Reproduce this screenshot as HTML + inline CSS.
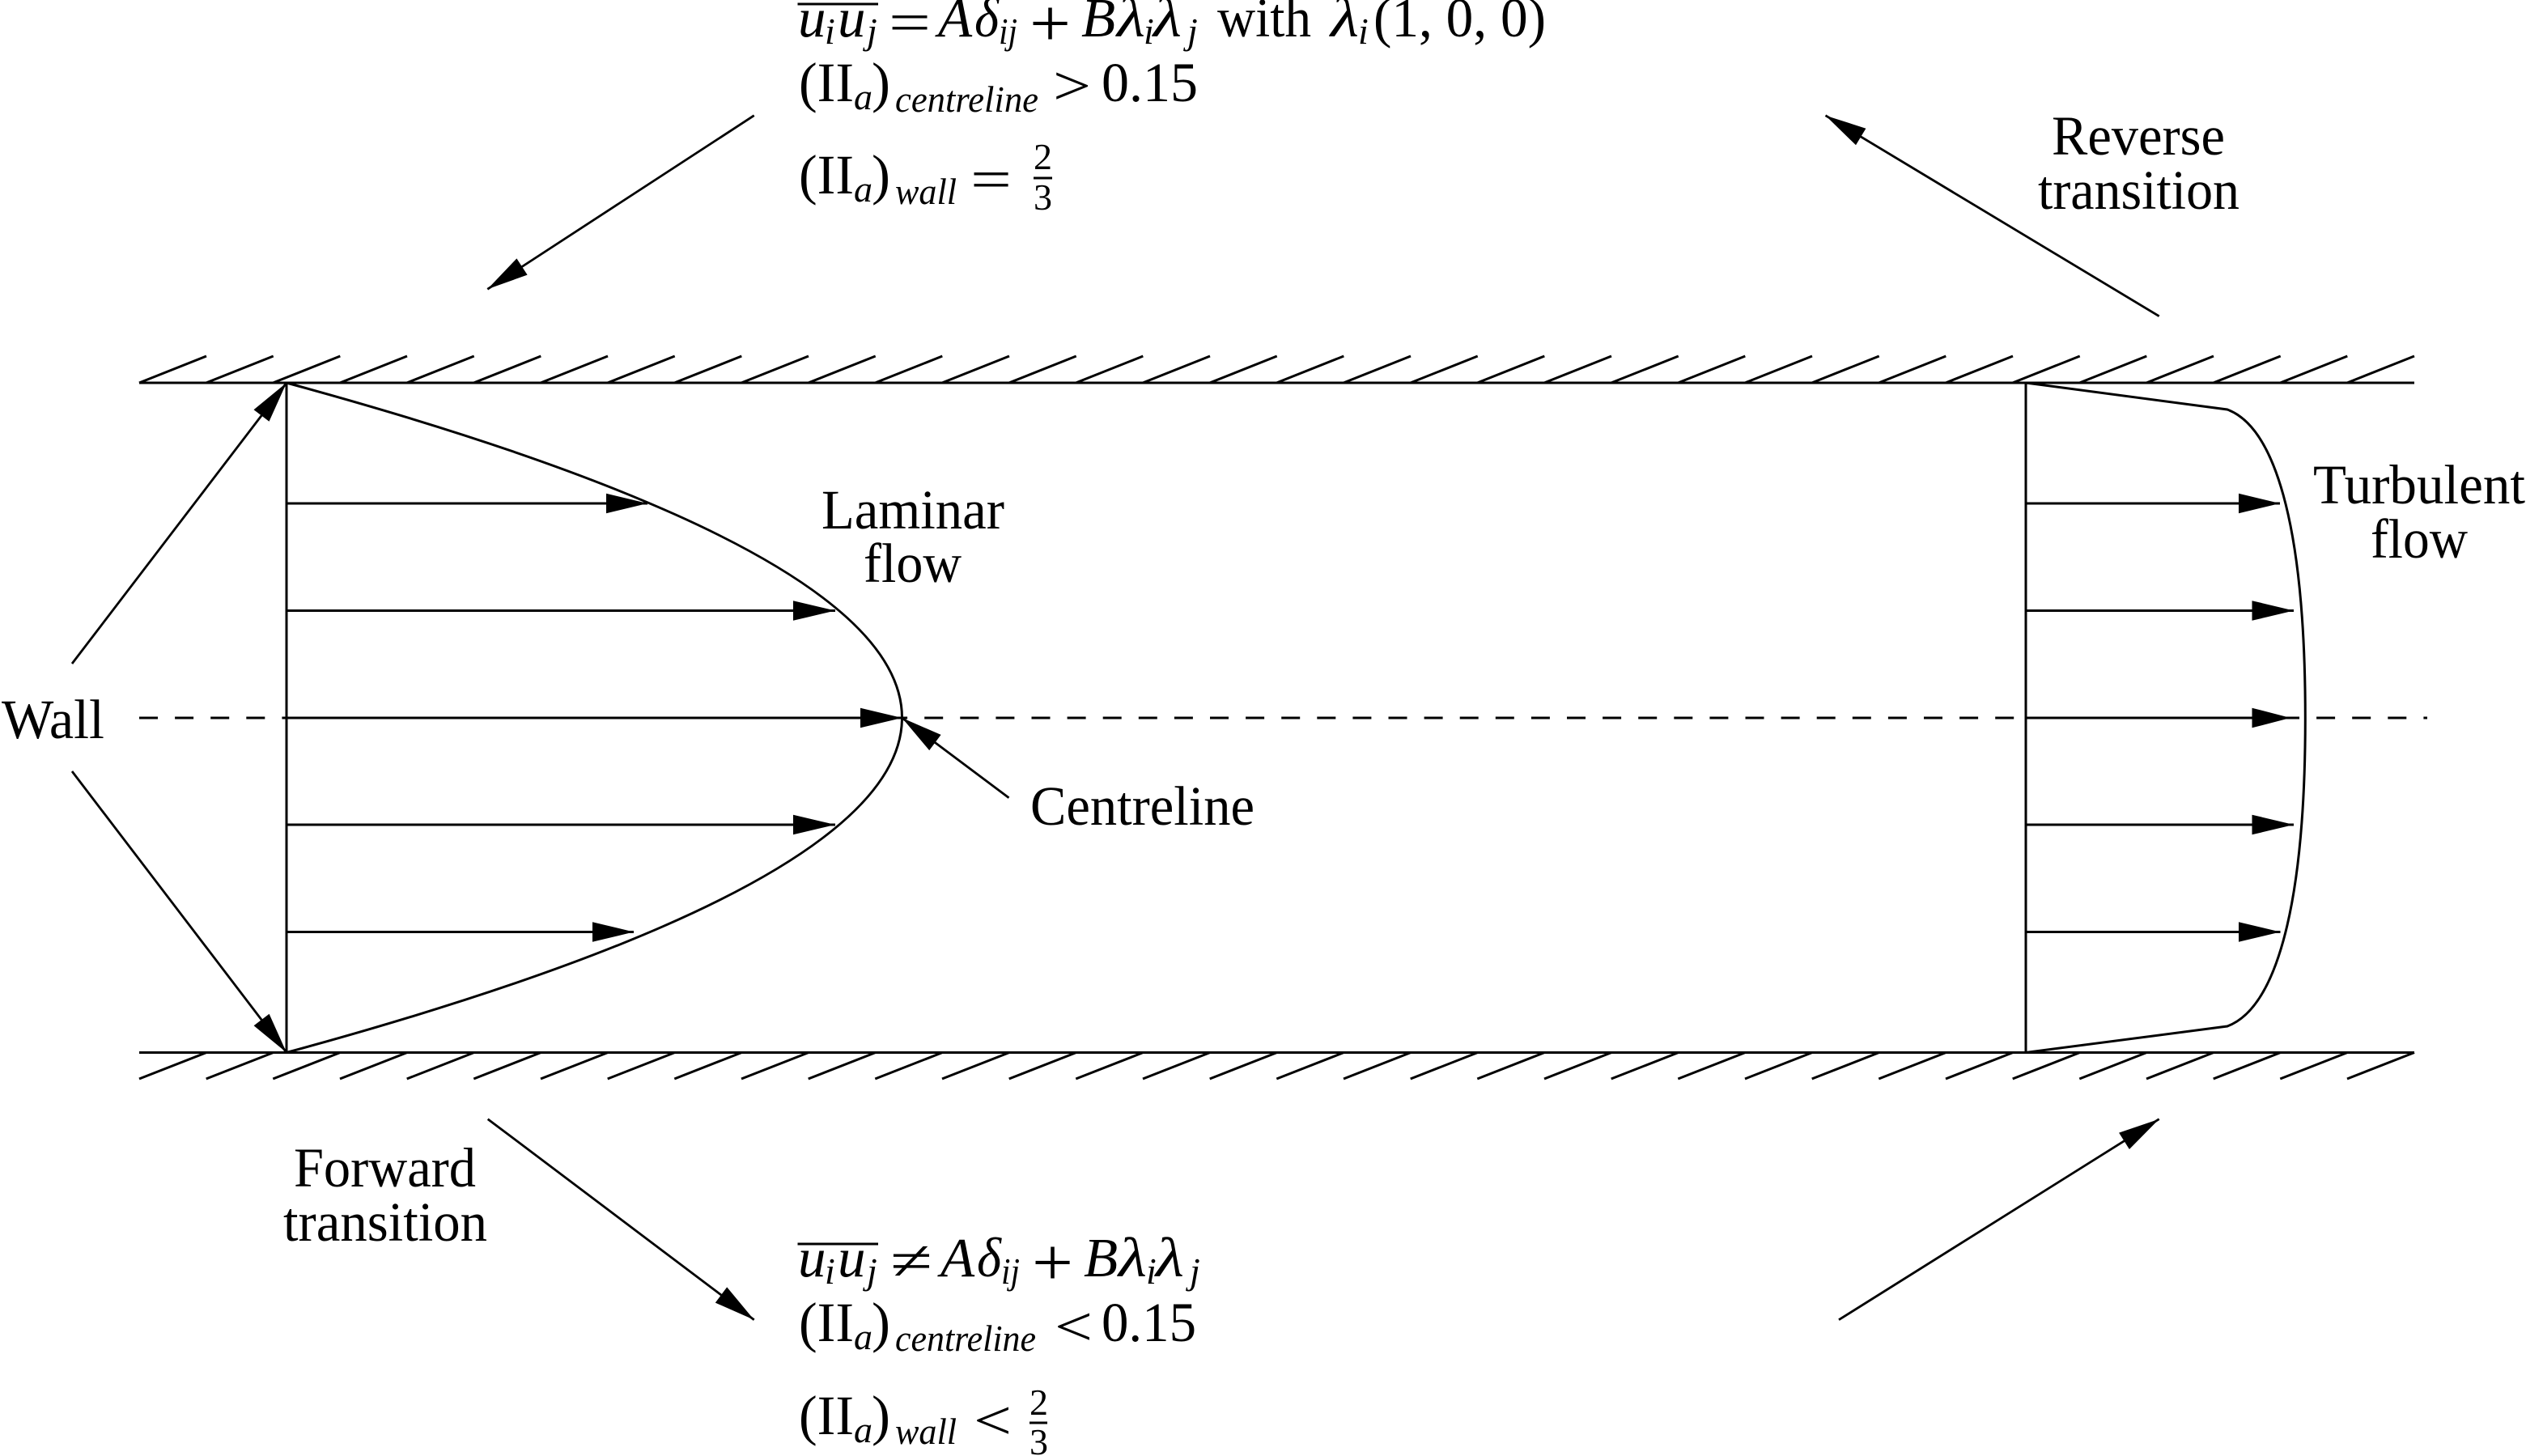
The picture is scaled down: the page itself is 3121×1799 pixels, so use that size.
<!DOCTYPE html>
<html>
<head>
<meta charset="utf-8">
<style>
html,body{margin:0;padding:0;background:#fff;width:3121px;height:1799px;overflow:hidden}
svg{display:block}
text{font-family:"Liberation Serif",serif;font-size:69px;fill:#000}
.i{font-style:italic}
.s{font-size:46px}
.p{font-size:84px}
</style>
</head>
<body>
<svg width="3121" height="1799" viewBox="0 0 3121 1799" xmlns="http://www.w3.org/2000/svg">
<rect width="3121" height="1799" fill="#fff"/>

<!-- walls -->
<g stroke="#000" stroke-width="3" fill="none">
<path d="M172 473H2983M172 1300.5H2983"/>
<path d="M172 473l83-33M254.700 473l83-33M337.300 473l83-33M420 473l83-33M502.700 473l83-33M585.300 473l83-33M668 473l83-33M750.700 473l83-33M833.300 473l83-33M916 473l83-33M998.700 473l83-33M1081.300 473l83-33M1164 473l83-33M1246.700 473l83-33M1329.300 473l83-33M1412 473l83-33M1494.700 473l83-33M1577.300 473l83-33M1660 473l83-33M1742.700 473l83-33M1825.300 473l83-33M1908 473l83-33M1990.700 473l83-33M2073.300 473l83-33M2156 473l83-33M2238.700 473l83-33M2321.300 473l83-33M2404 473l83-33M2486.700 473l83-33M2569.300 473l83-33M2652 473l83-33M2734.700 473l83-33M2817.300 473l83-33M2900 473l83-33"/>
<path d="M172 1333l83-32.500M254.700 1333l83-32.500M337.300 1333l83-32.500M420 1333l83-32.500M502.700 1333l83-32.500M585.300 1333l83-32.500M668 1333l83-32.500M750.700 1333l83-32.500M833.300 1333l83-32.500M916 1333l83-32.500M998.700 1333l83-32.500M1081.300 1333l83-32.500M1164 1333l83-32.500M1246.700 1333l83-32.500M1329.300 1333l83-32.500M1412 1333l83-32.500M1494.700 1333l83-32.500M1577.300 1333l83-32.500M1660 1333l83-32.500M1742.700 1333l83-32.500M1825.300 1333l83-32.500M1908 1333l83-32.500M1990.700 1333l83-32.500M2073.300 1333l83-32.500M2156 1333l83-32.500M2238.700 1333l83-32.500M2321.300 1333l83-32.500M2404 1333l83-32.500M2486.700 1333l83-32.500M2569.300 1333l83-32.500M2652 1333l83-32.500M2734.700 1333l83-32.500M2817.300 1333l83-32.500M2900 1333l83-32.500"/>
</g>

<!-- centreline -->
<line x1="172" y1="887" x2="2999" y2="887" stroke="#000" stroke-width="3" stroke-dasharray="23 21.100"/>

<!-- profiles -->
<g stroke="#000" stroke-width="3" fill="none">
<path d="M354 473V1300.500"/>
<path d="M354 473Q1875 887 354 1300.500"/>
<path d="M2503 473V1300.500"/>
<path d="M2503 473L2752 506C2808 527 2848.300 640 2848.300 887C2848.300 1134 2808 1247 2752 1268L2503 1300.500"/>
</g>

<!-- horizontal arrows -->
<g stroke="#000" stroke-width="3">
<path d="M354 622H800M354 754.500H1032M354 887H1114M354 1019H1032M354 1151.500H783"/>
<path d="M2503 622H2817M2503 754.500H2834M2503 887H2830M2503 1019H2834M2503 1151.500H2817.500"/>
</g>
<g fill="#000">
<polygon points="800,622 749,609.700 749,634.300"/>
<polygon points="1032,754.500 980,742.200 980,766.800"/>
<polygon points="1114.500,887 1063,874.700 1063,899.300"/>
<polygon points="1032,1019 980,1006.700 980,1031.300"/>
<polygon points="783,1151.500 732,1139.200 732,1163.800"/>
<polygon points="2817,622 2766,609.700 2766,634.300"/>
<polygon points="2834,754.500 2782.500,742.200 2782.500,766.800"/>
<polygon points="2830,887 2782.500,874.700 2782.500,899.300"/>
<polygon points="2834,1019 2782.500,1006.700 2782.500,1031.300"/>
<polygon points="2817.500,1151.500 2766,1139.200 2766,1163.800"/>
</g>

<!-- diagonal arrows -->
<g stroke="#000" stroke-width="2.800">
<line x1="89" y1="820" x2="354" y2="473"/>
<line x1="89" y1="953" x2="354" y2="1300.500"/>
<line x1="1246.500" y1="985.700" x2="1114.500" y2="887"/>
<line x1="931.700" y1="142.700" x2="602.300" y2="357.300"/>
<line x1="2667.700" y1="390.700" x2="2255.500" y2="142.700"/>
<line x1="602.700" y1="1382.700" x2="931.700" y2="1630.700"/>
<line x1="2272" y1="1630.700" x2="2667.700" y2="1382.700"/>
</g>
<g fill="#000">
<polygon points="354,473 332.500,520.800 313.500,506.200"/>
<polygon points="354,1300.500 332.600,1252.700 313.600,1267.300"/>
<polygon points="1114.500,887 1162.600,907.900 1148.200,927.100"/>
<polygon points="602.300,357.300 651.600,339.600 638.400,319.400"/>
<polygon points="2255.500,142.700 2305.400,158.700 2293,179.300"/>
<polygon points="931.700,1630.700 898.200,1590.400 883.800,1609.600"/>
<polygon points="2667.700,1382.700 2630.900,1420 2618.100,1399.600"/>
</g>

<!-- labels -->
<text x="2" y="912" textLength="127" lengthAdjust="spacingAndGlyphs">Wall</text>
<text x="1015" y="653" textLength="226" lengthAdjust="spacingAndGlyphs">Laminar</text>
<text x="1067" y="719" textLength="121" lengthAdjust="spacingAndGlyphs">flow</text>
<text x="1273" y="1019" textLength="277" lengthAdjust="spacingAndGlyphs">Centreline</text>
<text x="363" y="1466" textLength="225" lengthAdjust="spacingAndGlyphs">Forward</text>
<text x="350" y="1533" textLength="252" lengthAdjust="spacingAndGlyphs">transition</text>
<text x="2535" y="191" textLength="214" lengthAdjust="spacingAndGlyphs">Reverse</text>
<text x="2518" y="258" textLength="249" lengthAdjust="spacingAndGlyphs">transition</text>
<text x="2858" y="622" textLength="262" lengthAdjust="spacingAndGlyphs">Turbulent</text>
<text x="2929" y="689" textLength="120" lengthAdjust="spacingAndGlyphs">flow</text>

<!-- top equations -->
<line x1="985.500" y1="5" x2="1085" y2="5" stroke="#000" stroke-width="3"/>
<text class="i" x="986" y="45">u</text>
<text class="i s" x="1019" y="54">i</text>
<text class="i" x="1035" y="45">u</text>
<text class="i s" x="1071" y="54">j</text>
<text x="1098" y="51" textLength="52" lengthAdjust="spacingAndGlyphs">=</text>
<text class="i" x="1159" y="45">A</text>
<text class="i" x="1204" y="45" textLength="30" lengthAdjust="spacingAndGlyphs">δ</text>
<text class="i s" x="1234" y="54" textLength="23" lengthAdjust="spacingAndGlyphs">ij</text>
<text class="p" x="1272" y="57" textLength="51" lengthAdjust="spacingAndGlyphs">+</text>
<text class="i" x="1336" y="45">B</text>
<text class="i" x="1380" y="45" textLength="35" lengthAdjust="spacingAndGlyphs">λ</text>
<text class="i s" x="1413" y="54">i</text>
<text class="i" x="1425" y="45" textLength="35" lengthAdjust="spacingAndGlyphs">λ</text>
<text class="i s" x="1467" y="54">j</text>
<text x="1504" y="45" textLength="116" lengthAdjust="spacingAndGlyphs">with</text>
<text class="i" x="1644" y="45" textLength="35" lengthAdjust="spacingAndGlyphs">λ</text>
<text class="i s" x="1678" y="54">i</text>
<text x="1697" y="45" textLength="213" lengthAdjust="spacingAndGlyphs">(1, 0, 0)</text>

<text x="987" y="125" textLength="68" lengthAdjust="spacingAndGlyphs">(II</text>
<text class="i s" x="1055" y="135">a</text>
<text x="1077" y="125">)</text>
<text class="i s" x="1106" y="138" textLength="177" lengthAdjust="spacingAndGlyphs">centreline</text>
<text x="1301" y="129" textLength="47" lengthAdjust="spacingAndGlyphs">&gt;</text>
<text x="1361" y="125" textLength="119" lengthAdjust="spacingAndGlyphs">0.15</text>

<text x="987" y="239" textLength="68" lengthAdjust="spacingAndGlyphs">(II</text>
<text class="i s" x="1055" y="249">a</text>
<text x="1077" y="239">)</text>
<text class="i s" x="1106" y="252" textLength="76" lengthAdjust="spacingAndGlyphs">wall</text>
<text x="1199" y="245" textLength="51" lengthAdjust="spacingAndGlyphs">=</text>
<text class="s" x="1277" y="209">2</text>
<line x1="1277" y1="220" x2="1300" y2="220" stroke="#000" stroke-width="3"/>
<text class="s" x="1277" y="259">3</text>

<!-- bottom equations -->
<line x1="985.500" y1="1537" x2="1085" y2="1537" stroke="#000" stroke-width="3"/>
<text class="i" x="986" y="1577">u</text>
<text class="i s" x="1019" y="1586">i</text>
<text class="i" x="1035" y="1577">u</text>
<text class="i s" x="1071" y="1586">j</text>
<text x="1100" y="1581" textLength="52" lengthAdjust="spacingAndGlyphs">≠</text>
<text class="i" x="1162" y="1577">A</text>
<text class="i" x="1207" y="1577" textLength="30" lengthAdjust="spacingAndGlyphs">δ</text>
<text class="i s" x="1237" y="1586" textLength="23" lengthAdjust="spacingAndGlyphs">ij</text>
<text class="p" x="1275" y="1588" textLength="51" lengthAdjust="spacingAndGlyphs">+</text>
<text class="i" x="1339" y="1577">B</text>
<text class="i" x="1382" y="1577" textLength="35" lengthAdjust="spacingAndGlyphs">λ</text>
<text class="i s" x="1416" y="1586">i</text>
<text class="i" x="1428" y="1577" textLength="35" lengthAdjust="spacingAndGlyphs">λ</text>
<text class="i s" x="1470" y="1586">j</text>

<text x="987" y="1657" textLength="68" lengthAdjust="spacingAndGlyphs">(II</text>
<text class="i s" x="1055" y="1667">a</text>
<text x="1077" y="1657">)</text>
<text class="i s" x="1106" y="1669" textLength="174" lengthAdjust="spacingAndGlyphs">centreline</text>
<text x="1303" y="1662" textLength="47" lengthAdjust="spacingAndGlyphs">&lt;</text>
<text x="1361" y="1657" textLength="117" lengthAdjust="spacingAndGlyphs">0.15</text>

<text x="987" y="1772" textLength="68" lengthAdjust="spacingAndGlyphs">(II</text>
<text class="i s" x="1055" y="1782">a</text>
<text x="1077" y="1772">)</text>
<text class="i s" x="1106" y="1784" textLength="76" lengthAdjust="spacingAndGlyphs">wall</text>
<text x="1203" y="1778" textLength="47" lengthAdjust="spacingAndGlyphs">&lt;</text>
<text class="s" x="1272" y="1748">2</text>
<line x1="1272" y1="1758" x2="1294" y2="1758" stroke="#000" stroke-width="3"/>
<text class="s" x="1272" y="1797">3</text>
</svg>
</body>
</html>
